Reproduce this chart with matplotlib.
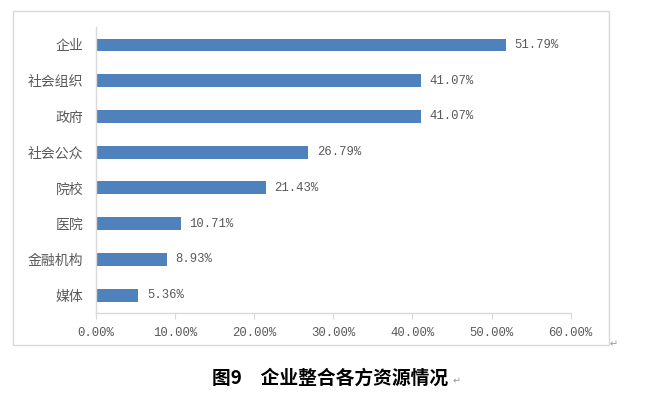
import matplotlib.pyplot as plt
from matplotlib.patches import Rectangle

plt.rcParams['font.family'] = ['Noto Sans CJK SC', 'DejaVu Sans']

# data
categories = ["企业", "社会组织", "政府", "社会公众", "院校", "医院", "金融机构", "媒体"]
values = [51.79, 41.07, 41.07, 26.79, 21.43, 10.71, 8.93, 5.36]
xticks = [0, 10, 20, 30, 40, 50, 60]
caption = "图9　企业整合各方资源情况"

BAR_COLOR = "#4f81bd"
TEXT_COLOR = "#595959"
LINE_COLOR = "#d9d9d9"
NUM_FONT = ["Liberation Mono", "DejaVu Sans Mono"]

fig = plt.figure(figsize=(6.53, 3.93), dpi=100)
ax = fig.add_axes([0.147, 0.2036, 0.727, 0.7274])

ypos = list(range(len(categories)))
ax.barh(ypos, values, height=0.36, color=BAR_COLOR)
ax.set_ylim(len(categories) - 0.5, -0.5)
ax.set_xlim(0, 60)

for y, v in zip(ypos, values):
    ax.text(v + 1.1, y, f"{v:.2f}%", va="center", ha="left",
            fontsize=8.8, color=TEXT_COLOR, family=NUM_FONT)

ax.set_yticks(ypos)
ax.set_yticklabels(categories, fontsize=10, color=TEXT_COLOR)
ax.set_xticks(xticks)
ax.set_xticklabels([f"{t:.2f}%" for t in xticks], fontsize=8.8,
                   color=TEXT_COLOR, family=NUM_FONT)
ax.tick_params(axis="y", length=0, pad=9)
ax.tick_params(axis="x", length=4, color=LINE_COLOR, pad=6, direction="out")

for s in ["top", "right"]:
    ax.spines[s].set_visible(False)
for s in ["left", "bottom"]:
    ax.spines[s].set_color(LINE_COLOR)
    ax.spines[s].set_linewidth(1)

# outer chart frame
fig.patches.append(Rectangle((13 / 653, 1 - 345 / 393), 596 / 653, 334 / 393,
                             transform=fig.transFigure, fill=False,
                             edgecolor=LINE_COLOR, linewidth=1))

fig.text(610 / 653, 1 - 344 / 393, "↵", fontsize=7, color="#999999",
         ha="left", va="center")
fig.text(330 / 653, 1 - 378 / 393, caption, fontsize=13.5, fontweight="bold",
         color="black", ha="center", va="center")
fig.text(453 / 653, 1 - 381 / 393, "↵", fontsize=7, color="#999999",
         ha="left", va="center")

fig.savefig("out.png", dpi=100)
